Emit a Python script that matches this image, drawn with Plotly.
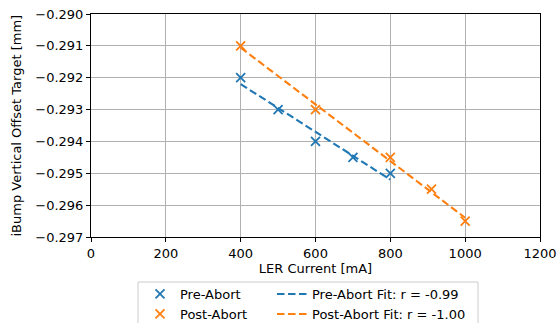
import numpy as np
import plotly.graph_objects as go

pre_x = [400, 500, 600, 700, 800]
pre_y = [-0.292, -0.293, -0.294, -0.2945, -0.295]
post_x = [400, 600, 800, 910, 1000]
post_y = [-0.291, -0.293, -0.2945, -0.2955, -0.2965]
pre_label = "Pre-Abort"
post_label = "Post-Abort"
pre_fit_label = "Pre-Abort Fit: r = -0.99"
post_fit_label = "Post-Abort Fit: r = -1.00"
x_ticks = [0, 200, 400, 600, 800, 1000, 1200]
y_ticks = [-0.297, -0.296, -0.295, -0.294, -0.293, -0.292, -0.291, -0.290]

BLUE = "#1f77b4"
ORANGE = "#ff7f0e"


def fit_line(xs, ys):
    k, b = np.polyfit(xs, ys, 1)
    fx = np.array([min(xs), max(xs)], dtype=float)
    return fx, k * fx + b


pre_fx, pre_fy = fit_line(pre_x, pre_y)
post_fx, post_fy = fit_line(post_x, post_y)

DASH = "7.5px,3.5px"
MS = 9
MW = 1.8
fig = go.Figure()
fig.add_trace(go.Scatter(x=pre_fx, y=pre_fy, mode="lines", name=pre_fit_label, showlegend=True,
                         line=dict(color=BLUE, width=2.1, dash=DASH), legend="legend3"))
fig.add_trace(go.Scatter(x=post_fx, y=post_fy, mode="lines", name=post_fit_label, showlegend=True,
                         line=dict(color=ORANGE, width=2.1, dash=DASH), legend="legend4"))
fig.add_trace(go.Scatter(x=pre_x, y=pre_y, mode="markers", name=pre_label, showlegend=True,
                         marker=dict(symbol="x-thin", size=MS, color=BLUE, line=dict(width=MW, color=BLUE)),
                         legend="legend"))
fig.add_trace(go.Scatter(x=post_x, y=post_y, mode="markers", name=post_label, showlegend=True,
                         marker=dict(symbol="x-thin", size=MS, color=ORANGE, line=dict(width=MW, color=ORANGE)),
                         legend="legend2"))

L, R, T, B = 91, 16, 14, 86
W, H = 556, 323
pw, ph = W - L - R, H - T - B


def px_x(p):
    return (p - L) / pw


def px_y(p):
    return (H - B - p) / ph


def leg(xp, yp):
    return dict(x=xp / W, y=(H - yp) / H, xref="container", yref="container",
                xanchor="left", yanchor="top", bgcolor="rgba(0,0,0,0)", borderwidth=0,
                font=dict(size=13), visible=True)


axis_common = dict(showline=True, linecolor="black", linewidth=1, mirror=True,
                   ticks="outside", ticklen=4, tickcolor="black", tickwidth=1,
                   showgrid=True, gridcolor="#b0b0b0", gridwidth=1, zeroline=False,
                   automargin=False, ticklabeloverflow="allow",
                   tickfont=dict(size=13))

fig.update_layout(
    width=W, height=H,
    showlegend=True,
    margin=dict(l=L, r=R, t=T, b=B, autoexpand=False),
    paper_bgcolor="white", plot_bgcolor="white",
    font=dict(family="DejaVu Sans", size=13, color="black"),
    xaxis=dict(range=[0, 1200], tickvals=x_ticks,
               title=dict(text="LER Current [mA]", standoff=3, font=dict(size=13)), **axis_common),
    yaxis=dict(range=[-0.297, -0.290], tickvals=y_ticks, tickformat=".3f", **axis_common),
    legend=leg(140, 279),
    legend2=leg(140, 299),
    legend3=leg(272, 279),
    legend4=leg(272, 299),
    annotations=[dict(text="iBump Vertical Offset Target [mm]", xref="paper", yref="paper",
                      x=px_x(16), y=0.5, textangle=-90, showarrow=False,
                      xanchor="center", yanchor="middle", font=dict(size=13))],
    shapes=[dict(type="rect", xref="paper", yref="paper",
                 x0=px_x(138), x1=px_x(478), y0=px_y(340), y1=px_y(282),
                 line=dict(color="#cccccc", width=1), fillcolor="rgba(255,255,255,0.8)", layer="below")],
)

fig.write_html("out.html")
